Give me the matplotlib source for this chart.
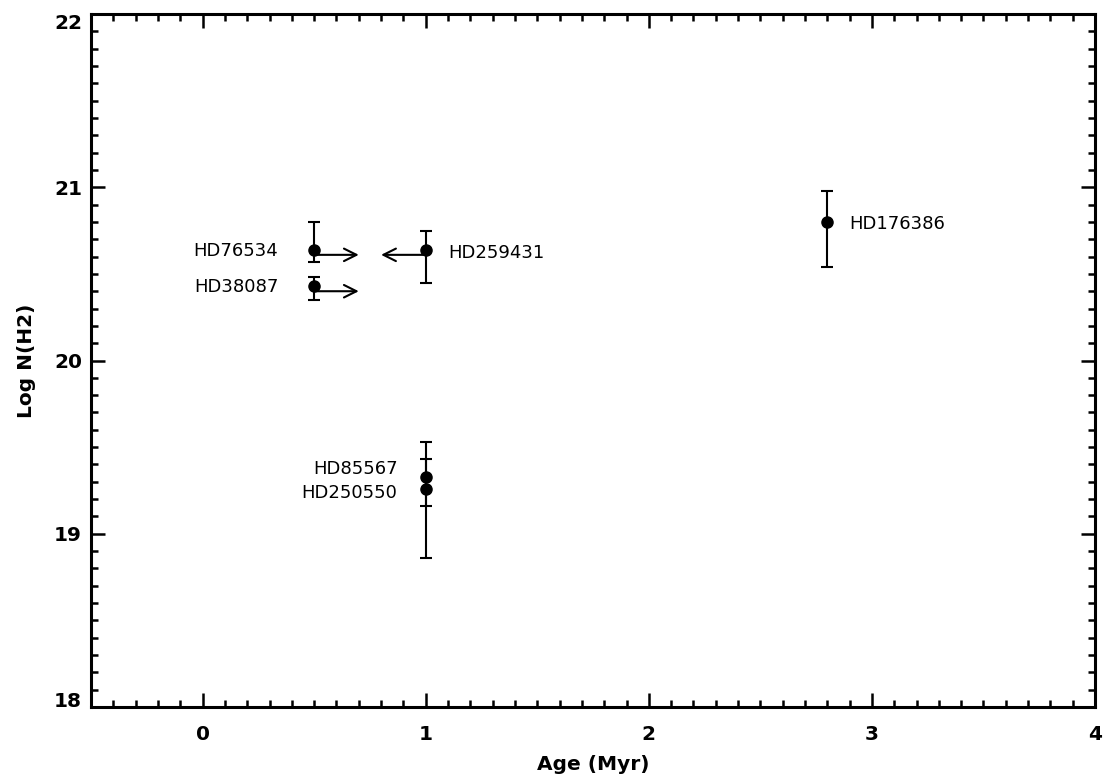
import matplotlib
matplotlib.use("Agg")
import matplotlib.pyplot as plt

# Data
names = ["HD76534", "HD38087", "HD259431", "HD176386", "HD85567", "HD250550"]
age = [0.5, 0.5, 1.0, 2.8, 1.0, 1.0]
logNH2 = [20.64, 20.43, 20.64, 20.80, 19.33, 19.26]
err_up = [0.16, 0.05, 0.11, 0.18, 0.20, 0.17]
err_lo = [0.07, 0.08, 0.19, 0.26, 0.17, 0.40]

# limit arrows: (x start, x end, y)
arrow_x0 = [0.5, 0.5, 1.0]
arrow_x1 = [0.7, 0.7, 0.8]
arrow_y = [20.61, 20.40, 20.61]

# label positions (data coords) and alignment
label_x = [0.34, 0.34, 1.10, 2.90, 0.875, 0.872]
label_y = [20.635, 20.425, 20.62, 20.79, 19.375, 19.235]
label_ha = ["right", "right", "left", "left", "right", "right"]

xticks = [0, 1, 2, 3, 4]
yticks = [18, 19, 20, 21, 22]
xminor = [i / 10 for i in range(-5, 41)]
yminor = [18 + i / 10 for i in range(0, 41)]

fig = plt.figure(figsize=(11.09, 7.84), dpi=100)
ax = fig.add_axes([0.0821, 0.0982, 0.9053, 0.8839])

ax.errorbar(age, logNH2, yerr=[err_lo, err_up], fmt="o", color="black",
            markersize=8, elinewidth=1.5, capsize=4, capthick=1.5)

for x0, x1, y in zip(arrow_x0, arrow_x1, arrow_y):
    ax.annotate("", xy=(x1, y), xytext=(x0, y),
                arrowprops=dict(arrowstyle="->,head_length=0.9,head_width=0.45",
                                lw=1.5, color="black", shrinkA=0, shrinkB=0))

for n, x, y, ha in zip(names, label_x, label_y, label_ha):
    ax.text(x, y, n, ha=ha, va="center", fontsize=13, family="DejaVu Sans")

ax.set_xlim(-0.5, 4)
ax.set_ylim(18, 22)
ax.set_xticks(xticks)
ax.set_yticks(yticks)
ax.set_xticks(xminor, minor=True)
ax.set_yticks(yminor, minor=True)
ax.tick_params(which="both", direction="in", top=True, right=True, width=1.8)
ax.tick_params(which="major", length=10, labelsize=14.5)
ax.tick_params(axis="x", which="major", pad=13)
ax.tick_params(axis="y", which="major", pad=6.5)
ax.tick_params(which="minor", length=5)
for lab in ax.get_xticklabels() + ax.get_yticklabels():
    lab.set_fontweight("bold")
# IDL-style: end labels pulled inside the axis range
ymaj = ax.yaxis.get_major_ticks()
ymaj[0].label1.set_verticalalignment("baseline")
ymaj[-1].label1.set_verticalalignment("top")
for s in ax.spines.values():
    s.set_linewidth(2.2)

ax.set_xlabel("Age (Myr)", fontsize=14.5, fontweight="bold", labelpad=8)
ax.set_ylabel("Log N(H2)", fontsize=14.5, fontweight="bold", labelpad=13)

fig.savefig("out.png", dpi=100)
